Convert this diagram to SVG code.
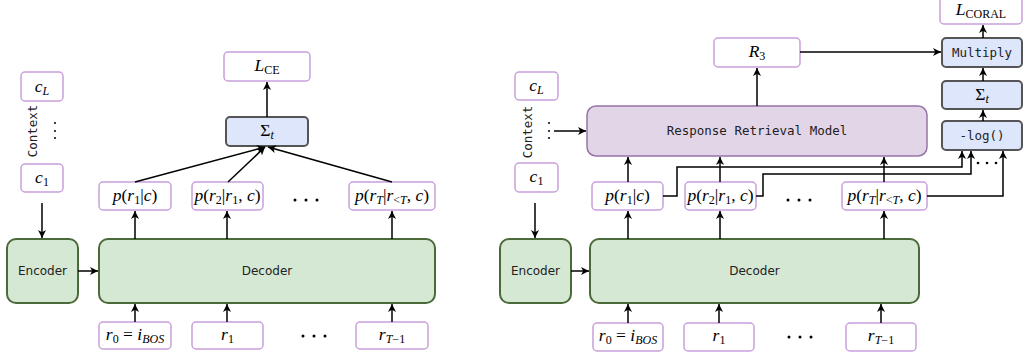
<svg xmlns="http://www.w3.org/2000/svg" width="1023" height="358" viewBox="0 0 1023 358">
<style>
.var{fill:#fff;stroke:#c9a0dc;stroke-width:1.5}
.blk{fill:#d5e8d4;stroke:#4b6a39;stroke-width:2}
.sum{fill:#dde6fb;stroke:#555;stroke-width:2}
.rrm{fill:#e1d5e7;stroke:#9673a6;stroke-width:1.5}
.m{font-family:"Liberation Serif","DejaVu Serif",serif;font-size:17.5px;text-anchor:middle;fill:#000}
.i{font-style:italic}
.s{font-size:12px}
.sans{font-family:"DejaVu Sans","Liberation Sans",sans-serif;font-size:12px;text-anchor:middle;fill:#222}
.mono{font-family:"DejaVu Sans Mono","Liberation Mono",monospace;font-size:12.5px;text-anchor:middle;fill:#222}
.c{fill:none;stroke:#000;stroke-width:1.5}
.dot{fill:#000}
</style>
<defs>
<marker id="a" markerUnits="userSpaceOnUse" markerWidth="10" markerHeight="10" refX="8" refY="4" orient="auto">
<path d="M0,0 L8,4 L0,8 L2.2,4 z" fill="#000"/>
</marker>
</defs>

<!-- LEFT DIAGRAM -->
<g id="L_cL"><rect class="var" x="21" y="72" width="42" height="29" rx="4"/><text class="m" x="42" y="92"><tspan class="i">c</tspan><tspan class="i s" dy="3">L</tspan></text></g>
<g id="L_c1"><rect class="var" x="21" y="164" width="42" height="28" rx="4"/><text class="m" x="42" y="183"><tspan class="i">c</tspan><tspan class="s" dy="3">1</tspan></text></g>
<g id="L_context"><text class="mono" transform="translate(37,131) rotate(-90)">Context</text>
<circle class="dot" cx="55" cy="123" r="1"/><circle class="dot" cx="55" cy="131" r="1"/><circle class="dot" cx="55" cy="138" r="1"/></g>
<g id="L_enc"><rect class="blk" x="7" y="239" width="71" height="64" rx="9"/><text class="sans" x="42.5" y="275">Encoder</text></g>
<g id="L_dec"><rect class="blk" x="99" y="239" width="336" height="64" rx="9"/><text class="sans" x="267" y="275">Decoder</text></g>
<g id="L_r0"><rect class="var" x="99" y="322" width="72" height="27" rx="4"/><text class="m" x="135" y="340"><tspan class="i">r</tspan><tspan class="s" dy="3">0</tspan><tspan dy="-3"> = </tspan><tspan class="i">i</tspan><tspan class="i s" dy="3">BOS</tspan></text></g>
<g id="L_r1"><rect class="var" x="192" y="322" width="71" height="27" rx="4"/><text class="m" x="227.5" y="340"><tspan class="i">r</tspan><tspan class="s" dy="3">1</tspan></text></g>
<g id="L_rT1"><rect class="var" x="356" y="322" width="72" height="27" rx="4"/><text class="m" x="392" y="340"><tspan class="i">r</tspan><tspan class="s" dy="3"><tspan class="i">T</tspan>−1</tspan></text></g>
<g id="L_dots"><circle class="dot" cx="303" cy="336" r="1.5"/><circle class="dot" cx="314" cy="336" r="1.5"/><circle class="dot" cx="325" cy="336" r="1.5"/>
<circle class="dot" cx="295" cy="200" r="1.5"/><circle class="dot" cx="306" cy="200" r="1.5"/><circle class="dot" cx="317" cy="200" r="1.5"/></g>
<g id="L_p1"><rect class="var" x="99" y="182" width="72" height="28" rx="4"/><text class="m" x="135" y="201"><tspan class="i">p</tspan>(<tspan class="i">r</tspan><tspan class="s" dy="3">1</tspan><tspan dy="-3">|</tspan><tspan class="i">c</tspan>)</text></g>
<g id="L_p2"><rect class="var" x="192" y="182" width="71" height="28" rx="4"/><text class="m" x="227.5" y="201"><tspan class="i">p</tspan>(<tspan class="i">r</tspan><tspan class="s" dy="3">2</tspan><tspan dy="-3">|</tspan><tspan class="i">r</tspan><tspan class="s" dy="3">1</tspan><tspan dy="-3">, </tspan><tspan class="i">c</tspan>)</text></g>
<g id="L_pT"><rect class="var" x="349" y="182" width="86" height="28" rx="4"/><text class="m" x="392" y="201"><tspan class="i">p</tspan>(<tspan class="i">r</tspan><tspan class="i s" dy="3">T</tspan><tspan dy="-3">|</tspan><tspan class="i">r</tspan><tspan class="s" dy="3">&lt;<tspan class="i">T</tspan></tspan><tspan dy="-3">, </tspan><tspan class="i">c</tspan>)</text></g>
<g id="L_sum"><rect class="sum" x="226" y="117" width="82" height="29" rx="4"/><text class="m" x="267" y="136">Σ<tspan class="i s" dy="3">t</tspan></text></g>
<g id="L_LCE"><rect class="var" x="224" y="52" width="86" height="29" rx="4"/><text class="m" x="267" y="71"><tspan class="i">L</tspan><tspan class="s" dy="3">CE</tspan></text></g>

<!-- RIGHT DIAGRAM -->
<g id="R_cL"><rect class="var" x="515" y="72" width="43" height="28" rx="4"/><text class="m" x="536.5" y="91"><tspan class="i">c</tspan><tspan class="i s" dy="3">L</tspan></text></g>
<g id="R_c1"><rect class="var" x="515" y="163" width="43" height="29" rx="4"/><text class="m" x="536.5" y="182"><tspan class="i">c</tspan><tspan class="s" dy="3">1</tspan></text></g>
<g id="R_context"><text class="mono" transform="translate(532,132) rotate(-90)">Context</text>
<circle class="dot" cx="549" cy="123" r="1"/><circle class="dot" cx="549" cy="131" r="1"/><circle class="dot" cx="549" cy="138" r="1"/></g>
<g id="R_rrm"><rect class="rrm" x="587" y="106" width="340" height="50" rx="9"/><text class="mono" x="757" y="135">Response Retrieval Model</text></g>
<g id="R_R3"><rect class="var" x="714" y="38" width="86" height="29" rx="4"/><text class="m" x="757" y="57"><tspan class="i">R</tspan><tspan class="s" dy="3">3</tspan></text></g>
<g id="R_enc"><rect class="blk" x="500" y="239" width="71" height="64" rx="9"/><text class="sans" x="535.5" y="275">Encoder</text></g>
<g id="R_dec"><rect class="blk" x="590" y="239" width="329" height="64" rx="9"/><text class="sans" x="754.5" y="275">Decoder</text></g>
<g id="R_r0"><rect class="var" x="593" y="323" width="70" height="28" rx="4"/><text class="m" x="628" y="341"><tspan class="i">r</tspan><tspan class="s" dy="3">0</tspan><tspan dy="-3"> = </tspan><tspan class="i">i</tspan><tspan class="i s" dy="3">BOS</tspan></text></g>
<g id="R_r1"><rect class="var" x="684" y="323" width="70" height="28" rx="4"/><text class="m" x="719" y="341"><tspan class="i">r</tspan><tspan class="s" dy="3">1</tspan></text></g>
<g id="R_rT1"><rect class="var" x="846" y="323" width="70" height="28" rx="4"/><text class="m" x="881" y="341"><tspan class="i">r</tspan><tspan class="s" dy="3"><tspan class="i">T</tspan>−1</tspan></text></g>
<g id="R_dots"><circle class="dot" cx="789" cy="337" r="1.5"/><circle class="dot" cx="800" cy="337" r="1.5"/><circle class="dot" cx="811" cy="337" r="1.5"/>
<circle class="dot" cx="788" cy="200" r="1.5"/><circle class="dot" cx="799" cy="200" r="1.5"/><circle class="dot" cx="810" cy="200" r="1.5"/>
<circle class="dot" cx="978" cy="163" r="1.3"/><circle class="dot" cx="987" cy="163" r="1.3"/><circle class="dot" cx="996" cy="163" r="1.3"/></g>
<g id="R_p1"><rect class="var" x="592" y="182" width="71" height="28" rx="4"/><text class="m" x="627.5" y="201"><tspan class="i">p</tspan>(<tspan class="i">r</tspan><tspan class="s" dy="3">1</tspan><tspan dy="-3">|</tspan><tspan class="i">c</tspan>)</text></g>
<g id="R_p2"><rect class="var" x="685" y="182" width="71" height="28" rx="4"/><text class="m" x="720.5" y="201"><tspan class="i">p</tspan>(<tspan class="i">r</tspan><tspan class="s" dy="3">2</tspan><tspan dy="-3">|</tspan><tspan class="i">r</tspan><tspan class="s" dy="3">1</tspan><tspan dy="-3">, </tspan><tspan class="i">c</tspan>)</text></g>
<g id="R_pT"><rect class="var" x="842" y="182" width="85" height="28" rx="4"/><text class="m" x="884.5" y="201"><tspan class="i">p</tspan>(<tspan class="i">r</tspan><tspan class="i s" dy="3">T</tspan><tspan dy="-3">|</tspan><tspan class="i">r</tspan><tspan class="s" dy="3">&lt;<tspan class="i">T</tspan></tspan><tspan dy="-3">, </tspan><tspan class="i">c</tspan>)</text></g>
<g id="R_log"><rect class="sum" x="942" y="121" width="80" height="29" rx="4"/><text class="mono" x="982" y="140">-log()</text></g>
<g id="R_sum"><rect class="sum" x="942" y="81" width="80" height="28" rx="4"/><text class="m" x="982" y="100">Σ<tspan class="i s" dy="3">t</tspan></text></g>
<g id="R_mult"><rect class="sum" x="942" y="38" width="80" height="29" rx="4"/><text class="mono" x="982" y="57">Multiply</text></g>
<g id="R_LCORAL"><rect class="var" x="940" y="-5" width="82" height="29" rx="4"/><text class="m" x="981" y="15"><tspan class="i">L</tspan><tspan class="s" dy="3">CORAL</tspan></text></g>

<g id="connectors">
<path class="c" marker-end="url(#a)" d="M42,203 L42,238"/>
<path class="c" marker-end="url(#a)" d="M78,271 L98,271"/>
<path class="c" marker-end="url(#a)" d="M135,322 L135,304"/>
<path class="c" marker-end="url(#a)" d="M227,322 L227,304"/>
<path class="c" marker-end="url(#a)" d="M392,322 L392,304"/>
<path class="c" marker-end="url(#a)" d="M135,239 L135,211"/>
<path class="c" marker-end="url(#a)" d="M227,239 L227,211"/>
<path class="c" marker-end="url(#a)" d="M392,239 L392,211"/>
<path class="c" marker-end="url(#a)" d="M135,182 L265,147"/>
<path class="c" marker-end="url(#a)" d="M228,182 L265,147"/>
<path class="c" marker-end="url(#a)" d="M392,182 L268,147"/>
<path class="c" marker-end="url(#a)" d="M267,117 L267,82"/>

<path class="c" marker-end="url(#a)" d="M535,203 L535,238"/>
<path class="c" marker-end="url(#a)" d="M554,131 L586,131"/>
<path class="c" marker-end="url(#a)" d="M571,271 L589,271"/>
<path class="c" marker-end="url(#a)" d="M628,323 L628,304"/>
<path class="c" marker-end="url(#a)" d="M719,323 L719,304"/>
<path class="c" marker-end="url(#a)" d="M881,323 L881,304"/>
<path class="c" marker-end="url(#a)" d="M628,239 L628,211"/>
<path class="c" marker-end="url(#a)" d="M720,239 L720,211"/>
<path class="c" marker-end="url(#a)" d="M884,239 L884,211"/>
<path class="c" marker-end="url(#a)" d="M628,182 L628,157"/>
<path class="c" marker-end="url(#a)" d="M720,182 L720,157"/>
<path class="c" marker-end="url(#a)" d="M884,182 L884,157"/>
<path class="c" marker-end="url(#a)" d="M757,106 L757,68"/>
<path class="c" marker-end="url(#a)" d="M800,52 L941,52"/>
<path class="c" marker-end="url(#a)" d="M663,196 L677,196 L677,167 L962,167 L962,151"/>
<path class="c" marker-end="url(#a)" d="M756,196 L763,196 L763,174 L971,174 L971,151"/>
<path class="c" marker-end="url(#a)" d="M927,196 L1003,196 L1003,151"/>
<path class="c" marker-end="url(#a)" d="M983,121 L983,110"/>
<path class="c" marker-end="url(#a)" d="M983,81 L983,68"/>
<path class="c" marker-end="url(#a)" d="M983,38 L983,25"/>
</g>
</svg>
